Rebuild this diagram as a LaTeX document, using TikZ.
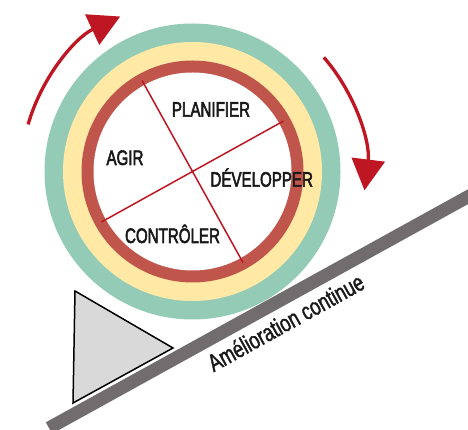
\documentclass[tikz,border=0pt]{standalone}
\usepackage{fontspec}
\setmainfont{Liberation Sans}[FakeStretch=0.72,FakeBold=2.5]
\newfontfamily\rampfont{Liberation Sans}[FakeStretch=0.74,FakeBold=1.5]
\usepackage{tikz}
\usetikzlibrary{
  arrows.meta,
  positioning
}
\usepackage{color}
\definecolor{ringgreen}{HTML}{93CBB7}
\definecolor{ringyellow}{HTML}{FFE9A5}
\definecolor{ringred}{HTML}{C0564B}
\definecolor{cyclered}{HTML}{BE1622}
\definecolor{rampgray}{HTML}{716C6D}

\begin{document}
\begin{tikzpicture}[x=1pt,y=1pt,
      phase/.style={
         anchor=base,
         inner sep=0pt,
         text=black!90,
         font=\fontsize{21}{21}\selectfont
      },
      ramp label/.style={
         anchor=base,
         inner sep=0pt,
         text=black!90,
         font=\rampfont\fontsize{24.5}{24.5}\selectfont
      },
      axis/.style={draw=cyclered, line width=1.5pt},
      cycle arrow/.style={
         draw=cyclered,
         line width=3.3pt,
         -{Triangle[length=31pt,width=33pt]}
      },
      ramp/.style={draw=rampgray, line width=13pt},
      wedge/.style={fill=black!15, draw=black, line width=1.5pt}
    ]
    \useasboundingbox (0,0) rectangle (468,430);
    \coordinate (c) at (192.5,258.5);
    % rings
    \fill[ringgreen]  (c) circle (148);
    \fill[ringyellow] (c) circle (129.5);
    \fill[ringred]    (c) circle (111);
    \fill[white]      (c) circle (99);
    \draw[axis, shift={(c)}] (119:104) -- (299:104);
    \draw[axis, shift={(c)}] (29:104) -- (209:104);
    % phases
    \node (plan)  [phase] at (211,313.3) {PLANIFIER};
    \node (act)   [phase] at (125,265)   {AGIR};
    \node (do)    [phase] at (261.7,243.3) {DÉVELOPPER};
    \node (check) [phase] at (172.5,187) {CONTRÔLER};
    % rotation
    \draw[cycle arrow] (c) ++(164:171) arc[start angle=164, end angle=115, radius=171];
    \draw[cycle arrow] (c) ++(41:174) arc[start angle=41, end angle=-7, radius=171];
    % slope and wedge
    \draw[ramp] (49,2) -- ++(28.9:520);
    \filldraw[wedge] (75,139) -- (173,82) -- (73,27) -- cycle;
    \node (kaizen) [ramp label, rotate=29] at (290,100) {Amélioration continue};
\end{tikzpicture}
\end{document}
